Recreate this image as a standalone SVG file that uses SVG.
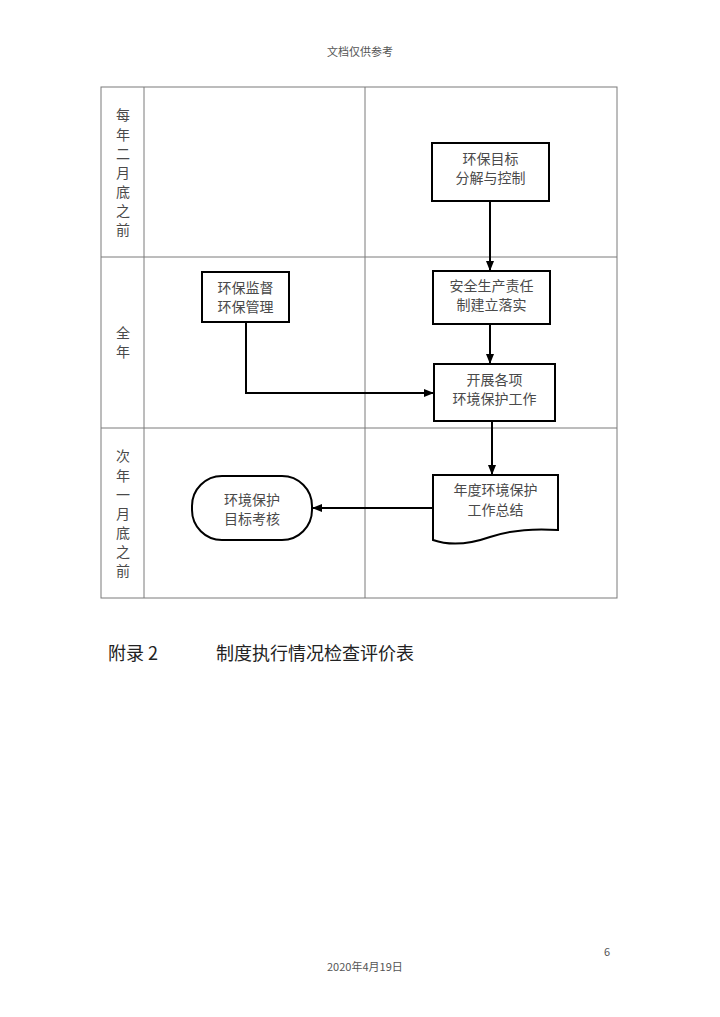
<svg xmlns="http://www.w3.org/2000/svg" width="720" height="1017" viewBox="0 0 720 1017">
<style>
.grid{stroke:#7a7a7a;stroke-width:1;fill:none}
.node{fill:#fff;stroke:#000;stroke-width:2}
.t{font-family:"Noto Sans CJK SC","Noto Sans",sans-serif;font-size:14px;fill:#4a4a4a;text-anchor:middle}
.lab{font-family:"Noto Sans CJK SC","Noto Sans",sans-serif;font-size:14px;fill:#4a4a4a;text-anchor:middle}
.edge{stroke:#000;stroke-width:2;fill:none}
.small{font-family:"Noto Sans CJK SC","Noto Sans",sans-serif;font-size:11px;fill:#555}
.h{font-family:"Noto Sans CJK SC","Noto Sans",sans-serif;font-size:18px;fill:#222}
</style>
<defs>
<marker id="arr" markerWidth="10" markerHeight="10" refX="9" refY="5" orient="auto" markerUnits="userSpaceOnUse">
<path d="M0,1 L10,5 L0,9 Z" fill="#000"/>
</marker>
</defs>
<rect width="720" height="1017" fill="#fff"/>
<text class="small" x="360" y="56" text-anchor="middle">文档仅供参考</text>
<g id="table">
<rect class="grid" x="101" y="87" width="516" height="511"/>
<line class="grid" x1="144" y1="87" x2="144" y2="598"/>
<line class="grid" x1="365" y1="87" x2="365" y2="598"/>
<line class="grid" x1="101" y1="257" x2="617" y2="257"/>
<line class="grid" x1="101" y1="428" x2="617" y2="428"/>
</g>
<g id="lane-labels">
<text class="lab" x="123" y="120">每</text>
<text class="lab" x="123" y="140">年</text>
<text class="lab" x="123" y="159">二</text>
<text class="lab" x="123" y="178">月</text>
<text class="lab" x="123" y="197">底</text>
<text class="lab" x="123" y="216">之</text>
<text class="lab" x="123" y="235">前</text>
<text class="lab" x="123" y="338">全</text>
<text class="lab" x="123" y="357">年</text>
<text class="lab" x="123" y="461">次</text>
<text class="lab" x="123" y="481">年</text>
<text class="lab" x="123" y="500">一</text>
<text class="lab" x="123" y="519">月</text>
<text class="lab" x="123" y="538">底</text>
<text class="lab" x="123" y="557">之</text>
<text class="lab" x="123" y="576">前</text>
</g>
<g id="connectors">
<line class="edge" x1="490" y1="201" x2="490" y2="270" marker-end="url(#arr)"/>
<line class="edge" x1="490" y1="324" x2="490" y2="363" marker-end="url(#arr)"/>
<polyline class="edge" points="246,322 246,393 433,393" marker-end="url(#arr)"/>
<line class="edge" x1="492" y1="422" x2="492" y2="474" marker-end="url(#arr)"/>
<line class="edge" x1="433" y1="508" x2="313" y2="508" marker-end="url(#arr)"/>
</g>
<g id="n1">
<rect class="node" x="432" y="143" width="117" height="58"/>
<text class="t" x="490.5" y="164">环保目标</text>
<text class="t" x="490.5" y="183">分解与控制</text>
</g>
<g id="n2">
<rect class="node" x="433" y="271" width="117" height="53"/>
<text class="t" x="491.5" y="291">安全生产责任</text>
<text class="t" x="491.5" y="310">制建立落实</text>
</g>
<g id="n3">
<rect class="node" x="202" y="272" width="87" height="50"/>
<text class="t" x="245.5" y="293">环保监督</text>
<text class="t" x="245.5" y="312">环保管理</text>
</g>
<g id="n4">
<rect class="node" x="434" y="364" width="121" height="57"/>
<text class="t" x="494.5" y="385">开展各项</text>
<text class="t" x="494.5" y="404">环境保护工作</text>
</g>
<g id="n5">
<path class="node" d="M433,475 L558,475 L558,530 C530,528 505,532 490,537 C470,544 450,546 433,540 Z"/>
<text class="t" x="495.5" y="495">年度环境保护</text>
<text class="t" x="495.5" y="515">工作总结</text>
</g>
<g id="n6">
<rect class="node" x="192" y="476" width="120" height="64" rx="30" ry="30"/>
<text class="t" x="252" y="505">环境保护</text>
<text class="t" x="252" y="524">目标考核</text>
</g>
<text class="h" x="108" y="660">附录 2</text>
<text class="h" x="216" y="660">制度执行情况检查评价表</text>
<text class="small" x="604" y="956">6</text>
<text class="small" x="327" y="971">2020年4月19日</text>
</svg>
